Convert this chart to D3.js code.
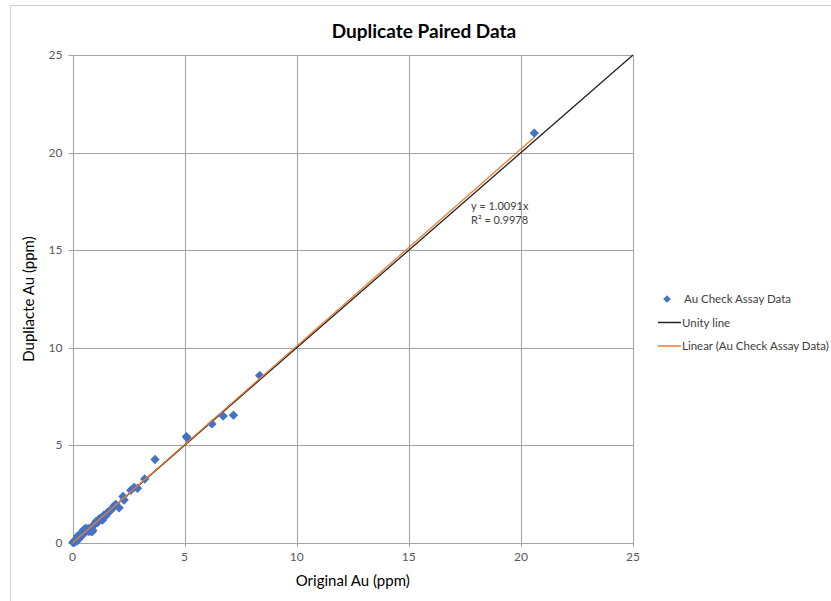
<!DOCTYPE html>
<html>
<head>
<meta charset="utf-8">
<script src="https://cdn.jsdelivr.net/npm/d3@7"></script>
<style>
  body { margin: 0; background: #fff; }
  svg { display: block; font-family: Lato, "Open Sans", sans-serif; }
</style>
</head>
<body>
<div id="chart"></div>
<script>
// Original vs duplicate assay values (ppm)
const originalAu = [
  0.02, 0.05, 0.08, 0.10, 0.12, 0.15, 0.18, 0.20, 0.25, 0.28, 0.30, 0.35, 0.38,
  0.42, 0.45, 0.50, 0.55, 0.60, 0.65, 0.70, 0.75, 0.80, 0.85, 0.90, 0.95, 1.00,
  0.32, 0.48, 0.58, 0.72, 0.88, 0.22,
  1.05, 1.12, 1.20, 1.28, 1.34, 1.40, 1.48, 1.55, 1.63, 1.70, 1.78, 1.85, 1.93, 2.08,
  2.25, 2.30, 2.60, 2.75, 2.90, 3.22, 3.68,
  5.08, 5.12, 6.22, 6.72, 7.18, 8.35, 20.6
];
const duplicateAu = [
  0.03, 0.02, 0.10, 0.05, 0.15, 0.12, 0.20, 0.10, 0.28, 0.22, 0.35, 0.30, 0.45,
  0.40, 0.55, 0.60, 0.52, 0.70, 0.62, 0.75, 0.68, 0.60, 0.80, 0.65, 0.92, 0.98,
  0.44, 0.66, 0.74, 0.60, 0.58, 0.35,
  1.10, 1.05, 1.25, 1.22, 1.18, 1.43, 1.38, 1.55, 1.61, 1.66, 1.78, 1.90, 1.98, 1.80,
  2.38, 2.20, 2.70, 2.85, 2.80, 3.28, 4.28,
  5.45, 5.38, 6.10, 6.50, 6.55, 8.58, 21.0
];
const axisTicks = [0, 5, 10, 15, 20, 25];
const unityLine = [0, 25];
const trendSlope = 1.0091;
const trendR2 = 0.9978;
const legendItems = ["Au Check Assay Data", "Unity line", "Linear (Au Check Assay Data)"];

const width = 831, height = 601;
const margin = { left: 72.5, right: 198, top: 55, bottom: 58 };

const svg = d3.select("#chart").append("svg")
  .attr("width", width)
  .attr("height", height);

// chart area border (only top and left edges show in the frame)
svg.append("path")
  .attr("d", `M10.5,${height} V5.5 H${width}`)
  .attr("fill", "none")
  .attr("stroke", "#cfcfcf");

const x = d3.scaleLinear().domain([0, 25]).range([margin.left, width - margin.right]);
const y = d3.scaleLinear().domain([0, 25]).range([height - margin.bottom, margin.top]);

// gridlines
const grid = svg.append("g").attr("stroke", "#a3a3a3").attr("stroke-width", 1);
axisTicks.forEach(t => {
  grid.append("line")
    .attr("x1", Math.round(x(t)) + 0.5).attr("x2", Math.round(x(t)) + 0.5)
    .attr("y1", y(25)).attr("y2", y(0) + 4);
  grid.append("line")
    .attr("x1", x(0) - 4).attr("x2", x(25))
    .attr("y1", Math.round(y(t)) + 0.5).attr("y2", Math.round(y(t)) + 0.5);
});

// tick labels
svg.append("g").selectAll("text")
  .data(axisTicks)
  .join("text")
  .attr("x", d => x(d))
  .attr("y", y(0) + 18)
  .attr("text-anchor", "middle")
  .attr("font-size", 12)
  .attr("fill", "#595959")
  .text(d => d);

svg.append("g").selectAll("text")
  .data(axisTicks)
  .join("text")
  .attr("x", x(0) - 10)
  .attr("y", d => y(d) + 4)
  .attr("text-anchor", "end")
  .attr("font-size", 12)
  .attr("fill", "#595959")
  .text(d => d);

// title and axis titles
svg.append("text")
  .attr("x", 424).attr("y", 38)
  .attr("text-anchor", "middle")
  .attr("font-size", 19)
  .attr("font-weight", "bold")
  .attr("fill", "#000")
  .text("Duplicate Paired Data");

svg.append("text")
  .attr("x", (x(0) + x(25)) / 2).attr("y", 586)
  .attr("text-anchor", "middle")
  .attr("font-size", 15)
  .attr("fill", "#000")
  .text("Original Au (ppm)");

svg.append("text")
  .attr("transform", `translate(34,${(y(0) + y(25)) / 2}) rotate(-90)`)
  .attr("text-anchor", "middle")
  .attr("font-size", 15)
  .attr("fill", "#000")
  .text("Dupliacte Au (ppm)");

// unity line
svg.append("line")
  .attr("x1", x(unityLine[0])).attr("y1", y(unityLine[0]))
  .attr("x2", x(unityLine[1])).attr("y2", y(unityLine[1]))
  .attr("stroke", "#222")
  .attr("stroke-width", 1.3);

// data points
const points = originalAu.map((v, i) => [v, duplicateAu[i]]);
svg.append("g").selectAll("path")
  .data(points)
  .join("path")
  .attr("d", d3.symbol(d3.symbolSquare, 44))
  .attr("transform", d => `translate(${x(d[0])},${y(d[1])}) rotate(45)`)
  .attr("fill", "#4472c4");

// linear trendline through origin
const maxX = d3.max(originalAu);
svg.append("line")
  .attr("x1", x(0)).attr("y1", y(0))
  .attr("x2", x(maxX)).attr("y2", y(maxX * trendSlope))
  .attr("stroke", "#ed7d31")
  .attr("stroke-width", 1.3);

// trendline equation
const eq = svg.append("g").attr("font-size", 11).attr("fill", "#404040");
eq.append("text").attr("x", 471).attr("y", 210).text(`y = ${trendSlope}x`);
eq.append("text").attr("x", 471).attr("y", 224).text(`R² = ${trendR2}`);

// legend
const legend = svg.append("g").attr("font-size", 11.5).attr("fill", "#404040");
const lx = 658, ly = 299, step = 23.5;
legend.append("path")
  .attr("d", d3.symbol(d3.symbolSquare, 30))
  .attr("transform", `translate(${lx + 9},${ly}) rotate(45)`)
  .attr("fill", "#4472c4");
legend.append("line")
  .attr("x1", lx).attr("x2", lx + 23)
  .attr("y1", ly + step).attr("y2", ly + step)
  .attr("stroke", "#222").attr("stroke-width", 1.5);
legend.append("line")
  .attr("x1", lx).attr("x2", lx + 23)
  .attr("y1", ly + 2 * step).attr("y2", ly + 2 * step)
  .attr("stroke", "#ed7d31").attr("stroke-width", 1.5);
legend.selectAll("text")
  .data(legendItems)
  .join("text")
  .attr("x", (d, i) => i === 0 ? lx + 26 : lx + 24)
  .attr("y", (d, i) => ly + i * step + 4)
  .attr("fill", "#404040")
  .text(d => d);
</script>
</body>
</html>
